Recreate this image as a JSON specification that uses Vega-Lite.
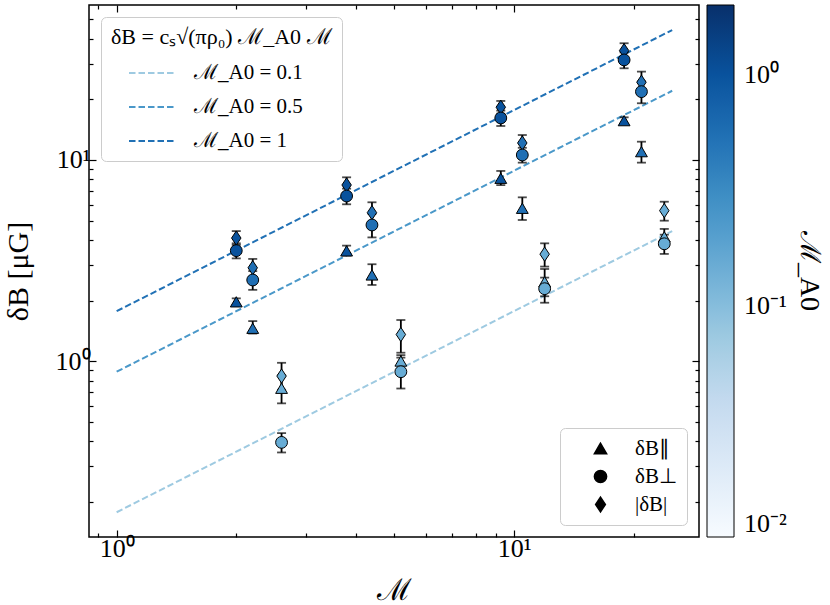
{
  "$schema": "https://vega.github.io/schema/vega-lite/v6.json",
  "width": 610,
  "height": 532,
  "autosize": {"type": "none"},
  "padding": {"left": 89, "top": 5, "right": 131, "bottom": 68},
  "config": {
    "font": "Liberation Serif",
    "view": {"stroke": "black", "strokeWidth": 1.5},
    "axis": {
      "domain": false,
      "grid": false,
      "tickColor": "black",
      "tickWidth": 1.2,
      "labelFont": "Liberation Serif",
      "labelFontSize": 26,
      "labelColor": "black",
      "titleFont": "Liberation Serif",
      "titleFontWeight": "normal",
      "titleFontSize": 30,
      "titleColor": "black"
    },
    "legend": {
      "labelFont": "Liberation Serif",
      "titleFont": "Liberation Serif",
      "titleFontWeight": "normal",
      "labelColor": "black",
      "titleColor": "black"
    }
  },
  "datasets": {
    "points": [
      {"M": 2.0, "dB": 4.09, "lo": 3.78, "hi": 4.43, "comp": "|δB|", "MA0": 1.0},
      {"M": 2.0, "dB": 1.97, "lo": 1.9, "hi": 2.05, "comp": "δB∥", "MA0": 1.0},
      {"M": 2.0, "dB": 3.54, "lo": 3.24, "hi": 3.85, "comp": "δB⊥", "MA0": 1.0},
      {"M": 2.2, "dB": 2.91, "lo": 2.62, "hi": 3.22, "comp": "|δB|", "MA0": 0.55},
      {"M": 2.2, "dB": 1.455, "lo": 1.37, "hi": 1.58, "comp": "δB∥", "MA0": 0.55},
      {"M": 2.2, "dB": 2.53, "lo": 2.26, "hi": 2.8, "comp": "δB⊥", "MA0": 0.55},
      {"M": 2.6, "dB": 0.842, "lo": 0.72, "hi": 0.98, "comp": "|δB|", "MA0": 0.15},
      {"M": 2.6, "dB": 0.732, "lo": 0.616, "hi": 0.85, "comp": "δB∥", "MA0": 0.15},
      {"M": 2.6, "dB": 0.394, "lo": 0.351, "hi": 0.438, "comp": "δB⊥", "MA0": 0.15},
      {"M": 3.79, "dB": 7.51, "lo": 6.85, "hi": 8.2, "comp": "|δB|", "MA0": 1.0},
      {"M": 3.79, "dB": 3.53, "lo": 3.35, "hi": 3.75, "comp": "δB∥", "MA0": 1.0},
      {"M": 3.79, "dB": 6.62, "lo": 6.02, "hi": 7.2, "comp": "δB⊥", "MA0": 1.0},
      {"M": 4.39, "dB": 5.47, "lo": 4.8, "hi": 6.16, "comp": "|δB|", "MA0": 0.55},
      {"M": 4.39, "dB": 2.68, "lo": 2.39, "hi": 3.03, "comp": "δB∥", "MA0": 0.55},
      {"M": 4.39, "dB": 4.75, "lo": 4.12, "hi": 5.4, "comp": "δB⊥", "MA0": 0.55},
      {"M": 5.19, "dB": 1.355, "lo": 1.1, "hi": 1.6, "comp": "|δB|", "MA0": 0.15},
      {"M": 5.19, "dB": 1.0, "lo": 0.88, "hi": 1.07, "comp": "δB∥", "MA0": 0.15},
      {"M": 5.19, "dB": 0.885, "lo": 0.73, "hi": 1.04, "comp": "δB⊥", "MA0": 0.15},
      {"M": 9.26, "dB": 18.3, "lo": 17.0, "hi": 19.66, "comp": "|δB|", "MA0": 1.0},
      {"M": 9.26, "dB": 8.11, "lo": 7.5, "hi": 8.82, "comp": "δB∥", "MA0": 1.0},
      {"M": 9.26, "dB": 16.18, "lo": 14.76, "hi": 17.6, "comp": "δB⊥", "MA0": 1.0},
      {"M": 10.49, "dB": 12.15, "lo": 11.0, "hi": 13.31, "comp": "|δB|", "MA0": 0.55},
      {"M": 10.49, "dB": 5.75, "lo": 5.03, "hi": 6.52, "comp": "δB∥", "MA0": 0.55},
      {"M": 10.49, "dB": 10.59, "lo": 9.7, "hi": 11.5, "comp": "δB⊥", "MA0": 0.55},
      {"M": 11.94, "dB": 3.4, "lo": 2.95, "hi": 3.85, "comp": "|δB|", "MA0": 0.15},
      {"M": 11.94, "dB": 2.48, "lo": 2.1, "hi": 2.87, "comp": "δB∥", "MA0": 0.15},
      {"M": 11.94, "dB": 2.29, "lo": 1.95, "hi": 2.6, "comp": "δB⊥", "MA0": 0.15},
      {"M": 18.92, "dB": 34.98, "lo": 32.0, "hi": 38.07, "comp": "|δB|", "MA0": 1.0},
      {"M": 18.92, "dB": 15.69, "lo": 15.1, "hi": 16.3, "comp": "δB∥", "MA0": 1.0},
      {"M": 18.92, "dB": 31.45, "lo": 28.58, "hi": 34.3, "comp": "δB⊥", "MA0": 1.0},
      {"M": 20.92, "dB": 24.36, "lo": 21.3, "hi": 27.51, "comp": "|δB|", "MA0": 0.55},
      {"M": 20.92, "dB": 11.0, "lo": 9.7, "hi": 12.33, "comp": "δB∥", "MA0": 0.55},
      {"M": 20.92, "dB": 21.87, "lo": 19.15, "hi": 24.6, "comp": "δB⊥", "MA0": 0.55},
      {"M": 23.88, "dB": 5.6, "lo": 4.99, "hi": 6.2, "comp": "|δB|", "MA0": 0.15},
      {"M": 23.88, "dB": 4.15, "lo": 3.8, "hi": 4.54, "comp": "δB∥", "MA0": 0.15},
      {"M": 23.88, "dB": 3.83, "lo": 3.41, "hi": 4.25, "comp": "δB⊥", "MA0": 0.15}
    ],
    "lines": [
      {"M": 1, "dB": 0.177, "label": "ℳ_A0 = 0.1"},
      {"M": 25, "dB": 4.43, "label": "ℳ_A0 = 0.1"},
      {"M": 1, "dB": 0.885, "label": "ℳ_A0 = 0.5"},
      {"M": 25, "dB": 22.1, "label": "ℳ_A0 = 0.5"},
      {"M": 1, "dB": 1.77, "label": "ℳ_A0 = 1"},
      {"M": 25, "dB": 44.3, "label": "ℳ_A0 = 1"}
    ]
  },
  "layer": [
    {
      "data": {"name": "lines"},
      "mark": {"type": "line", "strokeWidth": 2, "strokeDash": [6.5, 3]},
      "encoding": {
        "x": {
          "field": "M",
          "type": "quantitative",
          "scale": {"type": "log", "domain": [0.852, 29.2]},
          "axis": {
            "orient": "top",
            "title": null,
            "labels": false,
            "values": [0.9, 1, 2, 3, 4, 5, 6, 7, 8, 9, 10, 20],
            "tickSize": {"condition": {"test": "datum.value == 1 || datum.value == 10", "value": -7}, "value": -4}
          }
        },
        "y": {
          "field": "dB",
          "type": "quantitative",
          "scale": {"type": "log", "domain": [0.1333, 59]},
          "axis": {
            "orient": "right",
            "title": null,
            "labels": false,
            "values": [0.2, 0.3, 0.4, 0.5, 0.6, 0.7, 0.8, 0.9, 1, 2, 3, 4, 5, 6, 7, 8, 9, 10, 20, 30, 40, 50],
            "tickSize": {"condition": {"test": "datum.value == 1 || datum.value == 10", "value": -7}, "value": -4}
          }
        },
        "stroke": {
          "field": "label",
          "type": "nominal",
          "scale": {
            "domain": ["ℳ_A0 = 0.1", "ℳ_A0 = 0.5", "ℳ_A0 = 1"],
            "range": ["#9ecae1", "#4a98c9", "#2171b5"]
          },
          "legend": {
            "title": "δB = cₛ√(πρ₀) ℳ_A0 ℳ",
            "orient": "top-left",
            "offset": 12,
            "padding": 10,
            "fillColor": "white",
            "strokeColor": "#cccccc",
            "cornerRadius": 5,
            "symbolType": "stroke",
            "symbolSize": 2116,
            "symbolStrokeWidth": 2,
            "symbolDash": [6.5, 3],
            "symbolOffset": 17,
            "labelOffset": 18,
            "labelFontSize": 21,
            "titleFontSize": 22,
            "rowPadding": -18,
            "titlePadding": 0,
            "titleLimit": 400,
            "labelLimit": 300
          }
        }
      }
    },
    {
      "data": {"name": "points"},
      "mark": {
        "type": "errorbar",
        "color": "black",
        "ticks": {"size": 9, "thickness": 1.8, "color": "black"},
        "rule": {"strokeWidth": 1.8, "color": "black"}
      },
      "encoding": {
        "x": {
          "field": "M",
          "type": "quantitative",
          "title": "ℳ",
          "scale": {"type": "log", "domain": [0.852, 29.2]},
          "axis": {
            "orient": "bottom",
            "values": [0.9, 1, 2, 3, 4, 5, 6, 7, 8, 9, 10, 20],
            "labelExpr": "datum.value == 1 ? '10⁰' : datum.value == 10 ? '10¹' : ''",
            "tickSize": {"condition": {"test": "datum.value == 1 || datum.value == 10", "value": -7}, "value": -4},
            "labelPadding": 5,
            "titlePadding": 14
          }
        },
        "y": {
          "field": "lo",
          "type": "quantitative",
          "title": "δB [μG]",
          "scale": {"type": "log", "domain": [0.1333, 59]},
          "axis": {
            "orient": "left",
            "values": [0.2, 0.3, 0.4, 0.5, 0.6, 0.7, 0.8, 0.9, 1, 2, 3, 4, 5, 6, 7, 8, 9, 10, 20, 30, 40, 50],
            "labelExpr": "datum.value == 1 ? '10⁰' : datum.value == 10 ? '10¹' : ''",
            "tickSize": {"condition": {"test": "datum.value == 1 || datum.value == 10", "value": -7}, "value": -4},
            "labelPadding": 6,
            "titlePadding": 22
          }
        },
        "y2": {"field": "hi"}
      }
    },
    {
      "data": {"name": "points"},
      "mark": {"type": "point", "filled": true, "color": "black", "stroke": "black", "strokeWidth": 1, "size": 140, "opacity": 1},
      "encoding": {
        "x": {"field": "M", "type": "quantitative", "scale": {"type": "log", "domain": [0.852, 29.2]}, "axis": null},
        "y": {"field": "dB", "type": "quantitative", "scale": {"type": "log", "domain": [0.1333, 59]}, "axis": null},
        "fill": {
          "field": "MA0",
          "type": "quantitative",
          "scale": {
            "type": "log",
            "domain": [0.01, 0.019396, 0.037606, 0.072937, 0.141421, 0.27433, 0.53204, 1.0314, 2],
            "range": ["#f7fbff", "#deebf7", "#c6dbef", "#9ecae1", "#6baed6", "#4292c6", "#2171b5", "#08519c", "#08306b"],
            "interpolate": "rgb"
          },
          "legend": {
            "title": "ℳ_A0",
            "orient": "right",
            "offset": 7,
            "padding": 0,
            "gradientLength": 532,
            "gradientThickness": 27,
            "gradientStrokeColor": "black",
            "gradientStrokeWidth": 1,
            "values": [0.01, 0.1, 1],
            "labelExpr": "datum.value > 0.5 ? '10⁰' : datum.value > 0.05 ? '10⁻¹' : '10⁻²'",
            "labelFontSize": 26,
            "labelOffset": 10,
            "titleOrient": "right",
            "titleAnchor": "middle",
            "titleFontSize": 28,
            "titlePadding": 8
          }
        },
        "shape": {
          "field": "comp",
          "type": "nominal",
          "scale": {
            "domain": ["δB∥", "δB⊥", "|δB|"],
            "range": ["triangle-up", "circle", "M0,-1.2L0.8,0L0,1.2L-0.8,0Z"]
          },
          "legend": {
            "title": null,
            "orient": "bottom-right",
            "offset": 12,
            "padding": 10,
            "fillColor": "white",
            "strokeColor": "#cccccc",
            "cornerRadius": 5,
            "symbolFillColor": "black",
            "symbolStrokeColor": "black",
            "symbolSize": 150,
            "symbolOffset": 20,
            "labelOffset": 24,
            "labelFontSize": 21,
            "rowPadding": 6
          }
        }
      }
    }
  ],
  "resolve": {
    "scale": {"x": "shared", "y": "shared"},
    "axis": {"x": "independent", "y": "independent"}
  }
}
